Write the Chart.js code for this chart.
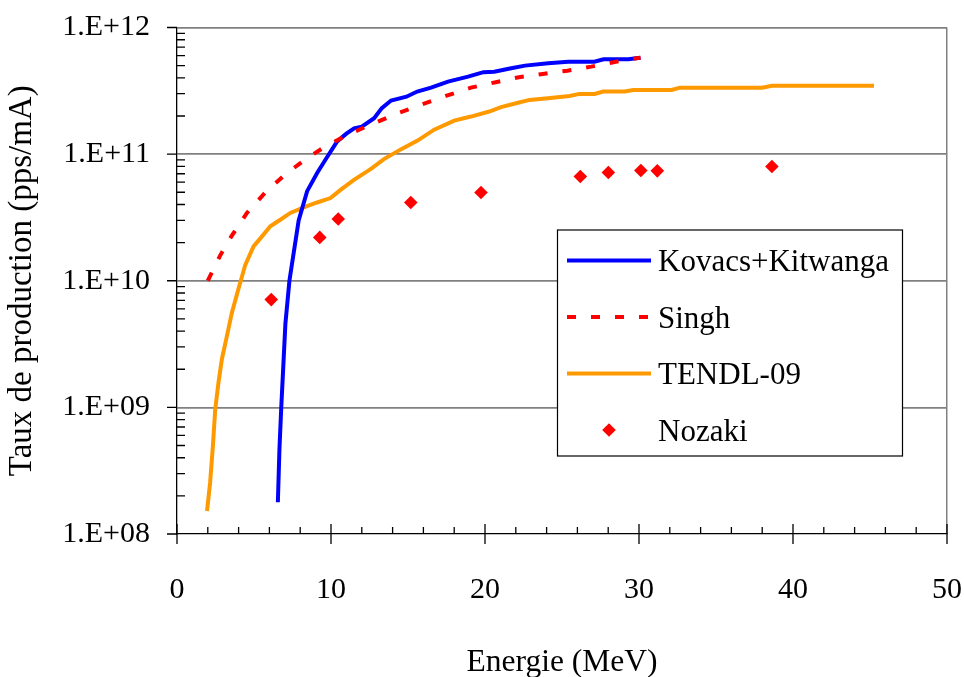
<!DOCTYPE html>
<html><head><meta charset="utf-8">
<script src="https://cdn.jsdelivr.net/npm/chart.js@4"></script>
<style>html,body{margin:0;padding:0;background:#fff}</style>
</head><body>
<canvas id="c" width="964" height="677"></canvas>
<script>
// ---- data ----
const seriesNames = ['Kovacs+Kitwanga', 'Singh', 'TENDL-09', 'Nozaki'];
const xTickLabels = ['0', '10', '20', '30', '40', '50'];
const yTickLabels = ['1.E+08', '1.E+09', '1.E+10', '1.E+11', '1.E+12'];
const xTitle = 'Energie (MeV)';
const yTitle = 'Taux de production (pps/mA)';

const kovacsE = [6.55, 6.65, 6.77, 7.04, 7.3, 7.9, 8.45, 9.1, 9.75, 10.4, 11.0, 11.5, 12.0, 12.8, 13.3, 13.9, 14.9, 15.6, 16.5, 17.6, 18.9, 19.9, 20.6, 21.7, 22.6, 24.1, 25.4, 27.1, 27.7, 29.3, 30.1];
const kovacsY = [1.78e8, 4.6e8, 1.0e9, 4.6e9, 1.0e10, 3.0e10, 5.1e10, 7.1e10, 9.5e10, 1.26e11, 1.45e11, 1.6e11, 1.65e11, 1.92e11, 2.31e11, 2.65e11, 2.84e11, 3.12e11, 3.35e11, 3.74e11, 4.09e11, 4.44e11, 4.48e11, 4.76e11, 5.0e11, 5.21e11, 5.37e11, 5.37e11, 5.61e11, 5.61e11, 5.78e11];

const singhE = [2.0, 2.8, 3.56, 4.54, 5.73, 6.93, 8.23, 9.53, 11.06, 12.68, 14.31, 15.83, 17.46, 19.09, 20.7, 22.2, 23.76, 25.34, 26.9, 28.5, 30.1];
const singhY = [1.0e10, 1.58e10, 2.27e10, 3.43e10, 4.98e10, 6.75e10, 8.9e10, 1.13e11, 1.42e11, 1.73e11, 2.1e11, 2.45e11, 2.88e11, 3.35e11, 3.7e11, 4.05e11, 4.3e11, 4.56e11, 4.91e11, 5.37e11, 5.78e11];

const tendlE = [1.95, 2.15, 2.33, 2.48, 2.69, 2.91, 3.24, 3.56, 3.97, 4.43, 4.97, 5.52, 6.06, 6.71, 7.36, 8.23, 9.1, 9.97, 10.62, 11.49, 12.57, 13.44, 14.53, 15.62, 16.7, 18.0, 19.09, 20.28, 21.04, 22.02, 22.89, 24.08, 25.49, 26.14, 27.12, 27.67, 29.08, 29.62, 32.12, 32.66, 38.0, 38.63, 45.26];
const tendlY = [1.52e8, 2.54e8, 4.94e8, 9.6e8, 1.56e9, 2.39e9, 3.65e9, 5.57e9, 8.45e9, 1.33e10, 1.87e10, 2.24e10, 2.69e10, 3.03e10, 3.43e10, 3.79e10, 4.15e10, 4.5e10, 5.22e10, 6.27e10, 7.62e10, 9.14e10, 1.09e11, 1.28e11, 1.56e11, 1.84e11, 1.98e11, 2.17e11, 2.35e11, 2.52e11, 2.68e11, 2.76e11, 2.88e11, 2.99e11, 2.99e11, 3.12e11, 3.12e11, 3.21e11, 3.21e11, 3.35e11, 3.35e11, 3.46e11, 3.46e11];

const nozakiE = [6.12, 9.27, 10.47, 15.18, 19.74, 26.19, 28.01, 30.12, 31.19, 38.63];
const nozakiY = [7.1e9, 2.2e10, 3.07e10, 4.15e10, 4.98e10, 6.65e10, 7.16e10, 7.43e10, 7.38e10, 7.98e10];

// ---- helpers ----
const FONT = '"Liberation Serif", "Times New Roman", serif';
const pts = (xs, ys) => xs.map((x, i) => ({x, y: ys[i]}));
const isDecade = v => Math.abs(Math.log10(v) - Math.round(Math.log10(v))) < 1e-9;

const tickMarks = {
  id: 'tickMarks',
  afterDraw(chart) {
    const {ctx, chartArea: a, scales: {x, y}} = chart;
    ctx.save();
    ctx.strokeStyle = '#000';
    ctx.lineWidth = 1.3;
    ctx.beginPath();
    const e0 = Math.round(Math.log10(y.min)), e1 = Math.round(Math.log10(y.max));
    for (let e = e0; e <= e1; e++) {
      for (let m = 1; m <= 9; m++) {
        const v = m * Math.pow(10, e);
        if (v > y.max * 1.0001) break;
        const p = y.getPixelForValue(v);
        if (m === 1) { ctx.moveTo(a.left - 10, p); ctx.lineTo(a.left, p); }
        else { ctx.moveTo(a.left, p); ctx.lineTo(a.left + 8, p); }
      }
    }
    x.ticks.forEach(t => {
      const p = x.getPixelForValue(t.value);
      if (t.value % 10 === 0) { ctx.moveTo(p, a.bottom - 10); ctx.lineTo(p, a.bottom + 10); }
      else { ctx.moveTo(p, a.bottom - 7); ctx.lineTo(p, a.bottom); }
    });
    ctx.stroke();
    ctx.restore();
  }
};

const boxLegend = {
  id: 'boxLegend',
  afterDatasetsDraw(chart) {
    const {ctx, chartArea: a} = chart;
    const bx = a.left + 380, by = a.top + 202, bw = 345, bh = 226;
    ctx.save();
    ctx.fillStyle = '#fff';
    ctx.fillRect(bx, by, bw, bh);
    ctx.strokeStyle = '#000';
    ctx.lineWidth = 1.2;
    ctx.strokeRect(bx + 0.5, by + 0.5, bw, bh);
    [0, 1, 2, 3].forEach((di, i) => {
      const ds = chart.data.datasets.find(d => d.label === seriesNames[di]);
      const yc = by + 31 + i * 56.5;
      if (ds.showLine !== false) {
        ctx.beginPath();
        ctx.strokeStyle = ds.borderColor;
        ctx.lineWidth = 4;
        ctx.setLineDash(ds.borderDash || []);
        ctx.moveTo(bx + 10, yc);
        ctx.lineTo(bx + 94, yc);
        ctx.stroke();
        ctx.setLineDash([]);
      } else {
        const r = 6.8, cx = bx + 52;
        ctx.beginPath();
        ctx.fillStyle = ds.backgroundColor;
        ctx.moveTo(cx - r, yc); ctx.lineTo(cx, yc - r); ctx.lineTo(cx + r, yc); ctx.lineTo(cx, yc + r);
        ctx.closePath(); ctx.fill();
      }
      ctx.fillStyle = '#000';
      ctx.font = '31px ' + FONT;
      ctx.textBaseline = 'alphabetic';
      ctx.textAlign = 'left';
      ctx.fillText(ds.label, bx + 101, yc + 10.5);
    });
    ctx.restore();
  }
};

new Chart(document.getElementById('c'), {
  type: 'line',
  data: {
    datasets: [
      {label: seriesNames[0], data: pts(kovacsE, kovacsY), borderColor: '#0000FF', borderWidth: 4, pointRadius: 0, tension: 0, fill: false, order: 2},
      {label: seriesNames[1], data: pts(singhE, singhY), borderColor: '#FF0000', borderWidth: 4, borderDash: [9, 15], pointRadius: 0, tension: 0, fill: false, order: 1},
      {label: seriesNames[2], data: pts(tendlE, tendlY), borderColor: '#FF9900', borderWidth: 4, pointRadius: 0, tension: 0, fill: false, order: 3},
      {label: seriesNames[3], data: pts(nozakiE, nozakiY), showLine: false, pointStyle: 'rectRot', pointRadius: 6.8, pointHoverRadius: 6.8, backgroundColor: '#FF0000', borderColor: '#FF0000', pointBorderWidth: 0, order: 0}
    ]
  },
  options: {
    responsive: false,
    animation: false,
    events: [],
    layout: {padding: {left: 0, top: 27.5, right: 17, bottom: 0}},
    plugins: {legend: {display: false}, tooltip: {enabled: false}},
    scales: {
      x: {
        type: 'linear', min: 0, max: 50,
        afterFit: s => { s.height = 143; s.paddingLeft = 0; s.paddingRight = 0; },
        border: {display: true, color: '#000', width: 1.3},
        grid: {drawTicks: false, color: c => (c.tick && c.tick.value === 50) ? '#808080' : 'rgba(0,0,0,0)', lineWidth: 1.5},
        ticks: {stepSize: 2, autoSkip: false, maxRotation: 0, padding: 38, color: '#000', font: {family: FONT, size: 30},
          callback: v => (v % 10 === 0) ? xTickLabels[v / 10] : ''},
        title: {display: true, text: xTitle, color: '#000', font: {family: FONT, size: 31.5, lineHeight: 0.9}, padding: {top: 0, bottom: 0}}
      },
      y: {
        type: 'logarithmic', min: 1e8, max: 1e12,
        afterFit: s => { s.width = 177; s.paddingTop = 0; s.paddingBottom = 0; },
        border: {display: true, color: '#000', width: 1.3},
        grid: {drawTicks: false, color: c => (c.tick && isDecade(c.tick.value) && c.tick.value > 1e8) ? '#808080' : 'rgba(0,0,0,0)', lineWidth: 1.7},
        ticks: {autoSkip: false, padding: 27, color: '#000', font: {family: FONT, size: 30},
          callback: v => isDecade(v) ? yTickLabels[Math.round(Math.log10(v)) - 8] : ''},
        title: {display: true, text: yTitle, color: '#000', font: {family: FONT, size: 33, lineHeight: 1}, padding: {top: 6, bottom: 0}}
      }
    }
  },
  plugins: [boxLegend, tickMarks]
});
</script>
</body></html>
